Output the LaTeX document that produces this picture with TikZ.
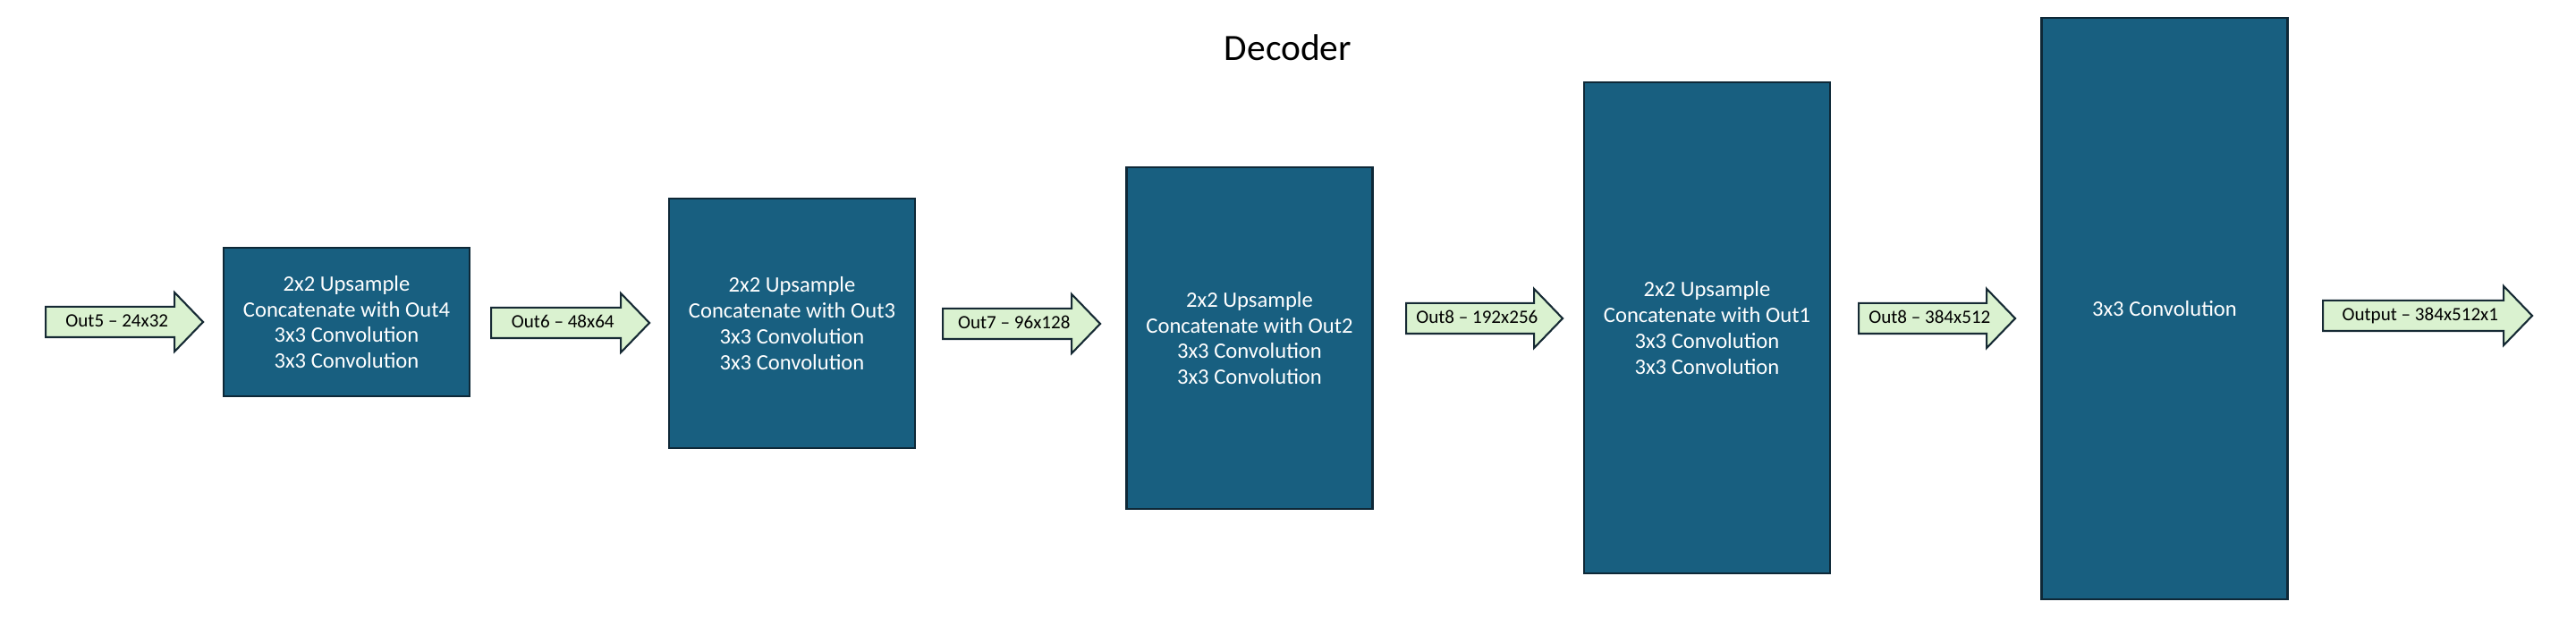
\documentclass[tikz,border=0pt]{standalone}
\usepackage{fontspec}
\setmainfont{Carlito}
\usetikzlibrary{shapes.arrows}
\definecolor{blockblue}{RGB}{24,95,128}
\definecolor{blockedge}{RGB}{14,40,55}
\definecolor{flowgreen}{RGB}{218,242,208}
\definecolor{flowedge}{RGB}{22,42,52}
\tikzset{
	% ---- default
	every path/.style={line width=0.3pt},
	every node/.style={font=\normalsize},
	% ---- custom
	block/.style={rectangle, draw=blockedge, fill=blockblue, line width=0.6pt,
		text=white, align=center, inner sep=0pt,
		font=\fontsize{7}{8.2}\selectfont},
	flow/.style={single arrow, draw=flowedge, fill=flowgreen, line width=0.6pt,
		single arrow head extend=0.16cm, single arrow tip angle=92,
		single arrow head indent=0pt, inner xsep=0.1cm, inner ysep=0.06cm,
		text height=0.16cm, text depth=0.04cm, anchor=tail,
		font=\fontsize{6}{7}\selectfont},
	heading/.style={font=\fontsize{11.8}{14}\selectfont},
}

\begin{document}
\begin{tikzpicture}

% parameters %{{{2

	\def\boxwidth{2.75}

% canvas %{{{2

	\useasboundingbox (0,0) rectangle (28.8,-7.2);

% coordinates %{{{2

	\coordinate (T) at (14.40,-0.53);

% blocks %{{{2

	\foreach \n/\cx/\cy/\h/\txt in {
		1/3.875/-3.600/1.66/{2x2 Upsample\\Concatenate with Out4\\3x3 Convolution\\3x3 Convolution},
		2/8.855/-3.615/2.79/{2x2 Upsample\\Concatenate with Out3\\3x3 Convolution\\3x3 Convolution},
		3/13.97/-3.780/3.82/{2x2 Upsample\\Concatenate with Out2\\3x3 Convolution\\3x3 Convolution},
		4/19.085/-3.665/5.49/{2x2 Upsample\\Concatenate with Out1\\3x3 Convolution\\3x3 Convolution},
		5/24.20/-3.450/6.50/{3x3 Convolution}} {
		\node[block, minimum width=\boxwidth cm, minimum height=\h cm] (b\n) at (\cx,\cy) {\txt};
	}

% arrows %{{{2

	\foreach \n/\tx/\ty/\len/\txt in {
		1/0.50/-3.60/1.76/{Out5 – 24x32},
		2/5.48/-3.61/1.77/{Out6 – 48x64},
		3/10.53/-3.62/1.76/{Out7 – 96x128},
		4/15.71/-3.56/1.75/{Out8 – 192x256},
		5/20.77/-3.56/1.75/{Out8 – 384x512},
		6/25.96/-3.53/2.34/{Output – 384x512x1}} {
		\node[flow, minimum height=\len cm] (a\n) at (\tx,\ty) {\txt};
	}

% labels %{{{2

	\node[heading] (title) at (T) {Decoder};

% closing %{{{2

\end{tikzpicture}
\end{document}
